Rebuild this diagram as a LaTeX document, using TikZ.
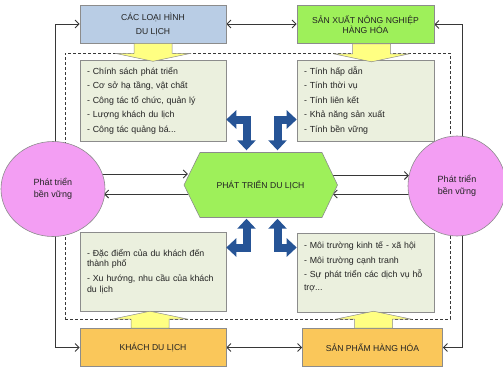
\documentclass[tikz,border=0pt]{standalone}
\usepackage{fontspec}
\setmainfont{Liberation Sans}
\usetikzlibrary{arrows.meta,backgrounds,shapes.geometric}

\definecolor{boxline}{RGB}{140,140,140}
\definecolor{connline}{RGB}{55,55,55}
\definecolor{bluefill}{RGB}{185,205,229}
\definecolor{limefill}{RGB}{158,240,90}
\definecolor{orangefill}{RGB}{250,199,90}
\definecolor{listfill}{RGB}{235,240,222}
\definecolor{pinkfill}{RGB}{243,158,243}
\definecolor{yellowfill}{RGB}{255,255,130}
\definecolor{arrowblue}{RGB}{38,84,150}
\definecolor{txt}{RGB}{35,35,35}

\begin{document}
\begin{tikzpicture}[x=1pt,y=-1pt,
  basefont/.style={font=\fontsize{8.6}{10}\selectfont, text=txt},
  headbox/.style={basefont, draw=boxline, line width=0.6pt, minimum height=38pt,
    align=center, inner sep=2pt},
  listbox/.style={draw=boxline, fill=listfill, line width=0.6pt, align=left,
    inner xsep=7pt, inner ysep=3pt, text=txt},
  pinkell/.style={font=\fontsize{9}{10.5}\selectfont, text=txt, ellipse, draw=boxline,
    fill=pinkfill, line width=0.6pt, inner sep=0pt, align=center},
  hexshape/.style={draw=boxline, fill=limefill, line width=0.6pt},
  framebox/.style={draw=connline, dashed, dash pattern=on 3pt off 2pt, line width=0.7pt,
    minimum width=385pt, minimum height=266pt, inner sep=0pt},
  conn/.style={draw=connline, line width=0.9pt},
  tipend/.style={-{Straight Barb[length=4pt,width=8pt]}},
  tipboth/.style={{Straight Barb[length=4pt,width=8pt]}-{Straight Barb[length=4pt,width=8pt]}},
  bluearrow/.style={draw=arrowblue, line width=8pt,
    {Triangle[length=10pt,width=18pt]}-{Triangle[length=10pt,width=18pt]}},
  yarrow/.style={fill=yellowfill, draw=boxline, line width=0.5pt, line join=round}
]
\useasboundingbox (0,0) rectangle (503,368);

% heading boxes in the four corners
\node[headbox, fill=bluefill, minimum width=146pt] (tl) at (153,24)
  {CÁC LOẠI HÌNH\\[4pt]DU LỊCH};
\node[headbox, fill=limefill, minimum width=137pt] (tr) at (365.5,24.5)
  {SẢN XUẤT NÔNG NGHIỆP\\HÀNG HÓA};
\node[headbox, fill=orangefill, minimum width=146pt] (bl) at (153,347.5)
  {KHÁCH DU LỊCH};
\node[headbox, fill=orangefill, minimum width=140pt] (br) at (372.5,347.5)
  {SẢN PHẨM HÀNG HÓA};

% lists of factors
\node[listbox, text width=132pt, minimum height=81pt,
  font=\fontsize{8.8}{14.5}\selectfont] (ltl) at (153,100.5)
  {- Chính sách phát triển\\- Cơ sở hạ tầng, vật chất\\- Công tác tổ chức, quản lý\\- Lượng khách du lịch\\- Công tác quảng bá...};
\node[listbox, text width=123pt, minimum height=81pt,
  font=\fontsize{8.8}{14.5}\selectfont] (ltr) at (365.5,100.5)
  {- Tính hấp dẫn\\- Tính thời vụ\\- Tính liên kết\\- Khả năng sản xuất\\- Tính bền vững};
\node[listbox, text width=132pt, minimum height=79pt,
  font=\fontsize{8.8}{10.8}\selectfont] (lbl) at (153,271.5)
  {- Đặc điểm của du khách đến\\thành phố\\[4pt]- Xu hướng, nhu cầu của khách\\du lịch};
\node[listbox, text width=123pt, minimum height=79pt,
  font=\fontsize{8.8}{12.5}\selectfont] (lbr) at (365.5,272.5)
  {- Môi trường kinh tế - xã hội\\[2pt]- Môi trường cạnh tranh\\[2pt]- Sự phát triển các dịch vụ hỗ\\trợ...\par\vspace{11pt}};

% central hexagon
\filldraw[hexshape] (260.5,185) ++(-76.5,0) -- ++(16,-32.5) -- ++(122,0)
  -- ++(15.5,32.5) -- ++(-15.5,32.5) -- ++(-122,0) -- cycle;
\node[basefont, minimum width=153pt, minimum height=65pt, inner sep=0pt] (hex)
  at (260.5,185) {PHÁT TRIỂN DU LỊCH};

% sustainable development ellipses
\node[pinkell, minimum width=104pt, minimum height=95pt] (elL) at (53,189)
  {Phát triển\\[1pt]bền vững};
\node[pinkell, minimum width=98pt, minimum height=100pt] (elR) at (457,186)
  {Phát triển\\[1pt]bền vững};

% yellow block arrows from the heading boxes into the lists
\draw[yarrow] ([xshift=-19pt]tl.south) -- ++(0,10) -- ++(-19,0) -- ++(38,8)
  -- ++(38,-8) -- ++(-19,0) -- ++(0,-10) -- cycle;
\draw[yarrow] ([xshift=-13pt]tr.south) -- ++(0,10) -- ++(-19,0) -- ++(38,8)
  -- ++(38,-8) -- ++(-19,0) -- ++(0,-10) -- cycle;
\draw[yarrow] ([xshift=-22pt]bl.north) -- ++(0,-9) -- ++(-19,0) -- ++(38,-8)
  -- ++(38,8) -- ++(-19,0) -- ++(0,9) -- cycle;
\draw[yarrow] ([xshift=-18pt]br.north) -- ++(0,-9) -- ++(-19,0) -- ++(38,-8)
  -- ++(38,8) -- ++(-19,0) -- ++(0,9) -- cycle;

% bent double arrows between the hexagon and the lists
\draw[bluearrow] ([xshift=-14pt,yshift=2pt]hex.north) |- ([yshift=-19pt]ltl.east);
\draw[bluearrow] ([xshift=17pt,yshift=2pt]hex.north) |- ([yshift=-19pt]ltr.west);
\draw[bluearrow] ([xshift=-14pt,yshift=-1pt]hex.south) |- ([yshift=24pt]lbl.east);
\draw[bluearrow] ([xshift=17pt,yshift=-1pt]hex.south) |- ([yshift=25pt]lbr.west);

% connectors, kept behind the shapes
\begin{pgfonlayer}{background}
  \node[framebox] (frm) at (257.5,186) {};
  \coordinate (lx) at (55,0);
  \coordinate (rx) at (462,0);
  \draw[conn,tipboth] (tl.west) -- (tl.west -| lx) -- (bl.west -| lx) -- (bl.west);
  \draw[conn,tipboth] (tr.east) -- (tr.east -| rx) -- (br.east -| rx) -- (br.east);
  \draw[conn,tipboth] (tl.east) -- (tl.east -| tr.west);
  \draw[conn,tipboth] (bl.east) -- (bl.east -| br.west);
  % between the ellipses and the hexagon
  \coordinate (hl1) at ([xshift=4pt,yshift=11pt]hex.west);
  \coordinate (hl2) at ([xshift=4pt,yshift=-9pt]hex.west);
  \coordinate (hr1) at ([xshift=-4.5pt,yshift=9.5pt]hex.east);
  \coordinate (hr2) at ([xshift=-4.5pt,yshift=-9pt]hex.east);
  \draw[conn,tipend] (elL.center |- hl1) -- (hl1);
  \draw[conn,tipend] (hl2) -- ([xshift=51pt]elL.center |- hl2);
  \draw[conn,tipend] (hr1) -- ([xshift=-48pt]elR.center |- hr1);
  \draw[conn,tipend] (elR.center |- hr2) -- (hr2);
\end{pgfonlayer}
\end{tikzpicture}
\end{document}
